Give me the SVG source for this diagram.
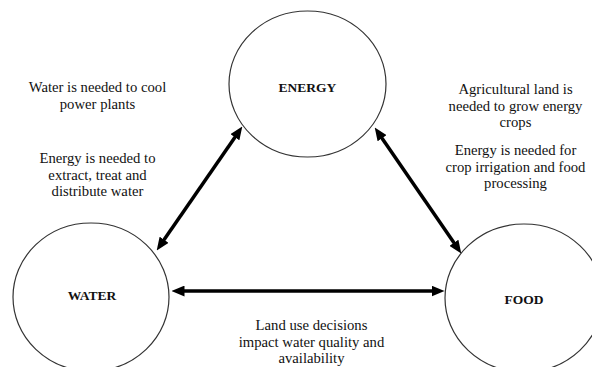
<svg xmlns="http://www.w3.org/2000/svg" width="592" height="367" viewBox="0 0 592 367">
<defs>
<style>
.node{fill:#fff;stroke:#333;stroke-width:1.2}
.lbl{font-family:"Liberation Serif","Times New Roman",serif;font-weight:bold;font-size:13.5px;fill:#111;text-anchor:middle}
.txt{font-family:"Liberation Serif","Times New Roman",serif;font-size:14.7px;fill:#111;text-anchor:middle}
.conn{stroke:#000;stroke-width:3.5;fill:none;marker-start:url(#ah);marker-end:url(#ah)}
</style>
<marker id="ah" markerUnits="userSpaceOnUse" markerWidth="13" markerHeight="11" refX="6" refY="5" orient="auto-start-reverse" viewBox="0 0 12 10">
<path d="M0,0 L12,5 L0,10 z" fill="#000"/>
</marker>
</defs>
<rect width="592" height="367" fill="#fff"/>
<g id="energy">
<ellipse class="node" cx="307.5" cy="84" rx="78.5" ry="73"/>
<text class="lbl" x="307.5" y="92">ENERGY</text>
</g>
<g id="water">
<ellipse class="node" cx="91" cy="297" rx="78" ry="74"/>
<text class="lbl" x="92" y="300">WATER</text>
</g>
<g id="food">
<ellipse class="node" cx="524" cy="298" rx="79" ry="74"/>
<text class="lbl" x="524" y="304">FOOD</text>
</g>
<g id="connectors">
<line class="conn" x1="160.4" y1="245.1" x2="238.6" y2="131.9"/>
<line class="conn" x1="378.4" y1="132.9" x2="457.6" y2="248.1"/>
<line class="conn" x1="178" y1="291" x2="438" y2="291"/>
</g>
<g id="notes">
<text class="txt" x="97.5" y="92">Water is needed to cool</text>
<text class="txt" x="97.5" y="109">power plants</text>
<text class="txt" x="97.5" y="163">Energy is needed to</text>
<text class="txt" x="97.5" y="179.5">extract, treat and</text>
<text class="txt" x="97.5" y="196">distribute water</text>
<text class="txt" x="515.5" y="94">Agricultural land is</text>
<text class="txt" x="515.5" y="110.5">needed to grow energy</text>
<text class="txt" x="515.5" y="127">crops</text>
<text class="txt" x="515.5" y="155">Energy is needed for</text>
<text class="txt" x="515.5" y="171.5">crop irrigation and food</text>
<text class="txt" x="515.5" y="188">processing</text>
<text class="txt" x="311.5" y="330">Land use decisions</text>
<text class="txt" x="311.5" y="347">impact water quality and</text>
<text class="txt" x="311.5" y="363">availability</text>
</g>
</svg>
